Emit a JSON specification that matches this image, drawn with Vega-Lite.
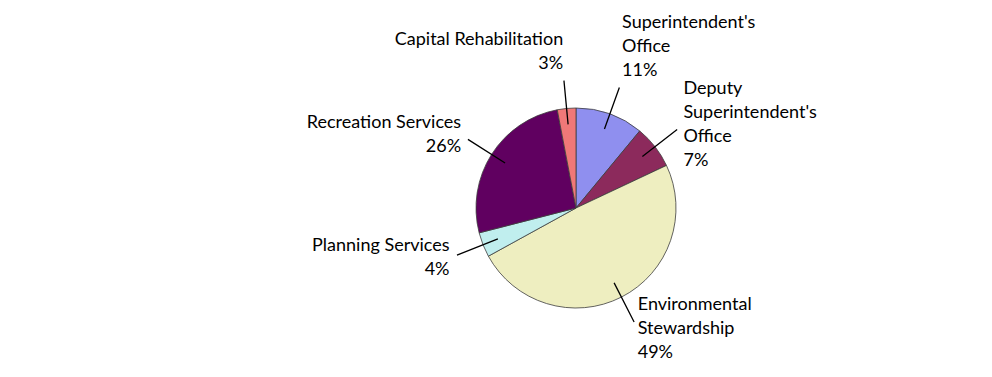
{
  "$schema": "https://vega.github.io/schema/vega-lite/v6.json",
  "width": 832,
  "height": 324,
  "autosize": {"type": "none"},
  "padding": {"left": 160, "top": 46, "right": 0, "bottom": 0},
  "background": "white",
  "config": {"view": {"stroke": null}},
  "data": {
    "values": [
      {"slice": "Superintendent's Office", "label": "Superintendent's\nOffice", "pct": 11, "order": 1},
      {"slice": "Deputy Superintendent's Office", "label": "Deputy\nSuperintendent's\nOffice", "pct": 7, "order": 2},
      {"slice": "Environmental Stewardship", "label": "Environmental\nStewardship", "pct": 49, "order": 3},
      {"slice": "Planning Services", "label": "Planning Services", "pct": 4, "order": 4},
      {"slice": "Recreation Services", "label": "Recreation Services", "pct": 26, "order": 5},
      {"slice": "Capital Rehabilitation", "label": "Capital Rehabilitation", "pct": 3, "order": 6}
    ]
  },
  "transform": [
    {"window": [{"op": "sum", "field": "pct", "as": "cum"}], "sort": [{"field": "order"}], "frame": [null, 0]},
    {"calculate": "datum.cum - datum.pct / 2", "as": "mid"},
    {"calculate": "datum.label + '\\n' + datum.pct + '%'", "as": "text"}
  ],
  "layer": [
    {
      "mark": {"type": "arc", "radius": 100, "stroke": "#3c3c3c", "strokeWidth": 0.8},
      "encoding": {
        "theta": {"field": "pct", "type": "quantitative", "stack": true, "scale": {"domain": [0, 100]}},
        "order": {"field": "order", "type": "quantitative"},
        "color": {
          "field": "slice",
          "type": "nominal",
          "scale": {
            "domain": ["Superintendent's Office", "Deputy Superintendent's Office", "Environmental Stewardship", "Planning Services", "Recreation Services", "Capital Rehabilitation"],
            "range": ["#8f8fef", "#8c2a5c", "#eeeec0", "#c0eeee", "#600060", "#f07878"]
          },
          "legend": null
        }
      }
    },
    {
      "mark": {"type": "arc", "radius": 128, "radius2": 84, "stroke": "black", "strokeWidth": 1.3, "fill": "transparent"},
      "encoding": {
        "theta": {"field": "mid", "type": "quantitative", "stack": null},
        "theta2": {"field": "mid"}
      }
    },
    {
      "transform": [{"filter": {"field": "slice", "oneOf": ["Superintendent's Office"]}}],
      "mark": {"type": "text", "radius": 136, "align": "left", "baseline": "bottom", "dy": -48, "lineBreak": "\n", "fontSize": 18, "font": "Lato", "lineHeight": 24, "color": "black"},
      "encoding": {
        "theta": {"field": "mid", "type": "quantitative", "stack": null},
        "text": {"field": "text"}
      }
    },
    {
      "transform": [{"filter": {"field": "slice", "oneOf": ["Deputy Superintendent's Office"]}}],
      "mark": {"type": "text", "radius": 136, "align": "left", "baseline": "middle", "dy": -36, "lineBreak": "\n", "fontSize": 18, "font": "Lato", "lineHeight": 24, "color": "black"},
      "encoding": {
        "theta": {"field": "mid", "type": "quantitative", "stack": null},
        "text": {"field": "text"}
      }
    },
    {
      "transform": [{"filter": {"field": "slice", "oneOf": ["Environmental Stewardship"]}}],
      "mark": {"type": "text", "radius": 136, "align": "left", "baseline": "middle", "dy": -24, "lineBreak": "\n", "fontSize": 18, "font": "Lato", "lineHeight": 24, "color": "black"},
      "encoding": {
        "theta": {"field": "mid", "type": "quantitative", "stack": null},
        "text": {"field": "text"}
      }
    },
    {
      "transform": [{"filter": {"field": "slice", "oneOf": ["Capital Rehabilitation"]}}],
      "mark": {"type": "text", "radius": 136, "align": "right", "baseline": "bottom", "dy": -24, "lineBreak": "\n", "fontSize": 18, "font": "Lato", "lineHeight": 24, "color": "black"},
      "encoding": {
        "theta": {"field": "mid", "type": "quantitative", "stack": null},
        "text": {"field": "text"}
      }
    },
    {
      "transform": [{"filter": {"field": "slice", "oneOf": ["Recreation Services", "Planning Services"]}}],
      "mark": {"type": "text", "radius": 136, "align": "right", "baseline": "middle", "dy": -12, "lineBreak": "\n", "fontSize": 18, "font": "Lato", "lineHeight": 24, "color": "black"},
      "encoding": {
        "theta": {"field": "mid", "type": "quantitative", "stack": null},
        "text": {"field": "text"}
      }
    }
  ]
}
